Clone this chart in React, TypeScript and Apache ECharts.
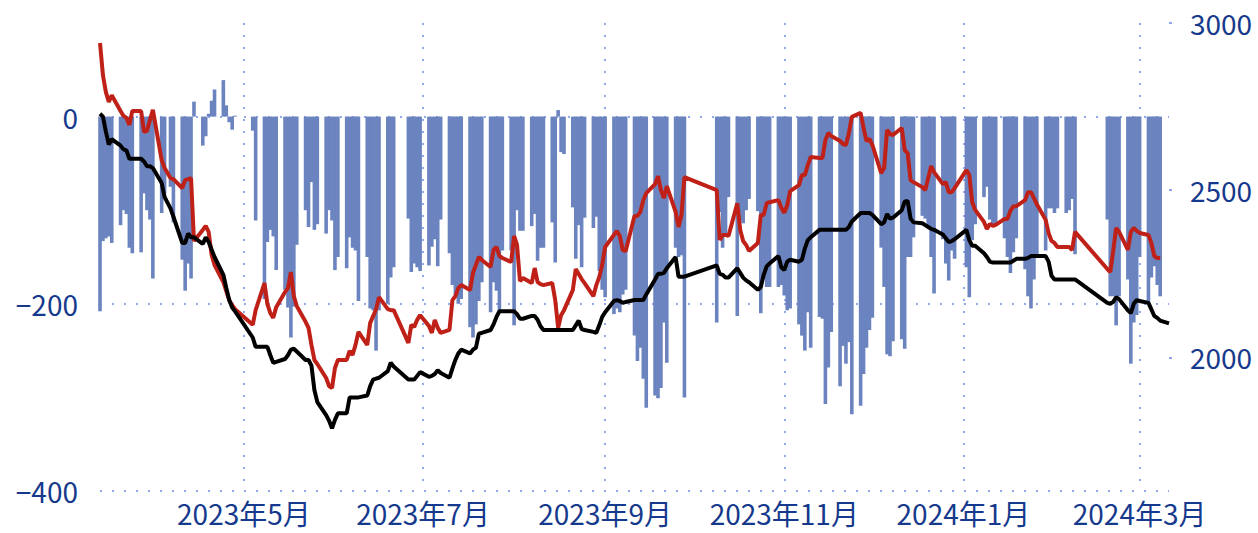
import React, { useEffect, useRef } from 'react';
import * as echarts from 'echarts';

// ---- calendar (trading days) ----
const START = '2023-03-13';
const END = '2024-03-11';
const HOLIDAYS = [
  '2023-04-05', '2023-05-01', '2023-05-02', '2023-05-03', '2023-06-22', '2023-06-23',
  '2023-09-29', '2023-10-02', '2023-10-03', '2023-10-04', '2023-10-05', '2023-10-06',
  '2024-01-01', '2024-02-09', '2024-02-12', '2024-02-13', '2024-02-14', '2024-02-15', '2024-02-16',
];

// ---- tick labels ----
const monthTicks = ['2023-05-01', '2023-07-01', '2023-09-01', '2023-11-01', '2024-01-01', '2024-03-01'];
const leftTicks = [-400, -200, 0];
const rightTicks = [2000, 2500, 3000];

// ---- series values (one per trading day) ----
const barValues = [
  -208, -133, -130, -128, -135,
  -116, -100, -104, -140, -146,
  -145, -82, -100, -110, -173,
  -103, -82, -75, -113,
  -153, -186, -157, -173, 16,
  -31, -21, 3, 17, 29,
  39, 12, -6, -14, 1,
  -15, -111,
  -195, -134, -121, -128, -164,
  -185, -204, -236, -203, -137,
  -100, -118, -70, -121, -115,
  -125, -100, -111, -164, -150,
  -162, -129, -140, -143, -197,
  -150, -205, -207, -250, -207,
  -200, -172, -161,
  -109, -166, -157, -161, -165,
  -159, -139, -131, -160, -110,
  -146, -180, -190, -200, -195,
  -225, -236, -222, -197, -177,
  -209, -177, -186, -207, -143,
  -143, -223, -100, -122, -122,
  -117, -104, -154, -140, -140,
  -113, -156, 7, -38, -40,
  -97, -152, -116, -161, -108,
  -119, -107, -165, -185, -193,
  -211, -205, -209, -190, -185,
  -234, -261, -247, -280, -311,
  -298, -301, -290, -220, -263,
  -140, -150, -148, -300,
  -220, -102, -140, -125, -86,
  -213, -111, -114, -100, -88,
  -101, -210, -173, -182, -182,
  -182, -180, -191, -207, -205,
  -222, -234, -250, -209, -247,
  -214, -216, -307, -268, -230,
  -288, -245, -264, -241, -318,
  -309, -275, -247, -228, -215,
  -140, -182, -254, -256, -240,
  -238, -248, -150, -150, -129,
  -106, -109, -118, -150, -189,
  -131, -157, -175, -143, -152,
  -161, -193, -132, -115,
  -86, -75, -110, -118, -115,
  -130, -150, -167, -145, -130,
  -163, -192, -205, -174, -150,
  -143, -98, -98, -103, -98,
  -103, -100, -88, -147,
  -110, -192, -192, -223, -192,
  -174, -264, -220, -212, -150,
  -198, -172, -160, -180, -192,
];

const redValues = [
  2940, 2844, 2793, 2764, 2784,
  2737, 2722, 2716, 2695, 2737,
  2737, 2674, 2677, 2710, 2740,
  2590, 2566, 2536, 2533,
  2506, 2530, 2533, 2536, 2348,
  2381, 2393, 2375, 2306, 2276,
  2225, 2198, 2171, 2156, 2144,
  2097, 2141,
  2222, 2159, 2132, 2118, 2150,
  2195, 2207, 2255, 2183, 2153,
  2106, 2088, 2037, 1992, 1980,
  1938, 1914, 1908, 1968, 1992,
  1992, 2019, 2007, 2037, 2076,
  2037, 2103, 2123, 2144, 2180,
  2144, 2141, 2141,
  2043, 2097, 2091, 2112, 2126,
  2094, 2073, 2112, 2088, 2073,
  2082, 2171, 2183, 2207, 2216,
  2201, 2252, 2276, 2300, 2291,
  2270, 2321, 2330, 2303, 2297,
  2285, 2363, 2336, 2228, 2237,
  2222, 2267, 2225, 2219, 2216,
  2222, 2171, 2088, 2126, 2141,
  2201, 2264, 2249, 2234, 2222,
  2183, 2216, 2240, 2276, 2330,
  2366, 2378, 2363, 2321, 2318,
  2423, 2423, 2435, 2470, 2491,
  2518, 2542, 2500, 2476, 2512,
  2435, 2390, 2426, 2539,
  2500, 2351, 2366, 2366, 2363,
  2461, 2381, 2348, 2336, 2318,
  2342, 2426, 2426, 2461, 2464,
  2470, 2447, 2432, 2455, 2497,
  2515, 2545, 2545, 2575, 2599,
  2596, 2596, 2650, 2671, 2662,
  2647, 2638, 2635, 2671, 2719,
  2731, 2686, 2647, 2653, 2635,
  2551, 2566, 2680, 2668, 2665,
  2686, 2620, 2611, 2530, 2524,
  2509, 2500, 2536, 2572, 2554,
  2518, 2524, 2494, 2494, 2506,
  2560, 2545, 2464, 2441,
  2405, 2384, 2399, 2393, 2396,
  2414, 2414, 2438, 2452, 2452,
  2470, 2494, 2494, 2476, 2458,
  2411, 2372, 2348, 2342, 2330,
  2330, 2330, 2321, 2375,
  2264, 2255, 2318, 2387, 2375,
  2321, 2375, 2387, 2378, 2372,
  2366, 2342, 2303, 2297, 2297,
];

const blackValues = [
  3, 0, -16, -30, -24,
  -31, -35, -36, -45, -45,
  -45, -48, -53, -53, -55,
  -71, -86, -98, -107,
  -135, -135, -125, -129, -129,
  -136, -129, -134, -142, -150,
  -169, -183, -196, -204, -208,
  -236, -246,
  -246, -246, -255, -263, -262,
  -259, -255, -249, -248, -251,
  -260, -260, -266, -292, -305,
  -319, -325, -333, -324, -317,
  -317, -300, -300, -300, -300,
  -298, -288, -281, -280, -279,
  -272, -263, -267,
  -281, -281, -281, -277, -273,
  -278, -277, -275, -271, -274,
  -279, -269, -260, -253, -249,
  -253, -249, -247, -232, -231,
  -228, -222, -214, -208, -208,
  -208, -208, -211, -216, -216,
  -213, -213, -217, -224, -228,
  -228, -228, -228, -228, -228,
  -228, -223, -218, -227, -228,
  -230, -231, -223, -214, -209,
  -197, -196, -197, -199, -198,
  -196, -196, -196, -196, -190,
  -174, -168, -168, -167, -162,
  -150, -171, -171, -171,
  -159, -168, -169, -172, -172,
  -162, -167, -172, -175, -177,
  -185, -182, -169, -160, -157,
  -149, -161, -164, -155, -153,
  -155, -153, -141, -132, -129,
  -121, -121, -121, -121, -121,
  -121, -121, -121, -118, -112,
  -103, -103, -103, -103, -105,
  -115, -113, -104, -109, -108,
  -100, -91, -90, -109, -113,
  -114, -116, -118, -120, -121,
  -126, -130, -134, -133, -131,
  -121, -132, -138, -138,
  -146, -150, -155, -156, -156,
  -156, -156, -156, -154, -152,
  -152, -151, -149, -149, -149,
  -149, -155, -170, -174, -174,
  -174, -174, -174, -174,
  -199, -200, -198, -193, -195,
  -207, -210, -200, -196, -197,
  -199, -206, -213, -215, -218,
  -221,
];

// ---- styles ----
const BAR_COLOR = '#6b84bf';
const RED = '#bf2118';
const BLACK = '#000000';
const GRID_COLOR = '#8fa8f0';
const LABEL_COLOR = '#15398c';
const FONT = '"Noto Sans CJK SC", "Noto Sans", sans-serif';
const FONT_SIZE = 28;

function parseDay(s: string): number {
  const [y, m, d] = s.split('-').map(Number);
  return new Date(y, m - 1, d).getTime();
}

function dayKey(d: Date): string {
  const mm = String(d.getMonth() + 1).padStart(2, '0');
  const dd = String(d.getDate()).padStart(2, '0');
  return `${d.getFullYear()}-${mm}-${dd}`;
}

function tradingDays(): number[] {
  const out: number[] = [];
  const hol = new Set(HOLIDAYS);
  const end = parseDay(END);
  const [sy, sm, sd] = START.split('-').map(Number);
  const d = new Date(sy, sm - 1, sd);
  while (d.getTime() <= end) {
    const wd = d.getDay();
    if (wd !== 0 && wd !== 6 && !hol.has(dayKey(d))) out.push(d.getTime());
    d.setDate(d.getDate() + 1);
  }
  return out;
}

export default function App() {
  const ref = useRef<HTMLDivElement>(null);

  useEffect(() => {
    if (!ref.current) return;
    const chart = echarts.init(ref.current, undefined, { renderer: 'svg' });
    const days = tradingDays();
    const bars = barValues.map((v, i) => [days[i], v]);
    const red = redValues.map((v, i) => [days[i], v]);
    const black = blackValues.map((v, i) => [days[i], v]);
    const monthTs = monthTicks.map(parseDay);
    const dotted = { type: [2, 10] as number[], width: 2, color: GRID_COLOR };
    const labelBase = { color: LABEL_COLOR, fontSize: FONT_SIZE, lineHeight: FONT_SIZE, fontFamily: FONT };

    chart.setOption({
      animation: false,
      backgroundColor: '#ffffff',
      grid: { left: 100, right: 89, top: 23, bottom: 42, outerBoundsMode: 'none', containLabel: false },
      xAxis: {
        type: 'value',
        min: parseDay(START),
        max: parseDay(END),
        axisLine: { show: false },
        axisTick: { show: false, customValues: monthTs },
        axisLabel: {
          ...labelBase,
          customValues: monthTs,
          margin: 8,
          hideOverlap: false,
          formatter: (val: number) => {
            const d = new Date(val);
            return `${d.getFullYear()}年${d.getMonth() + 1}月`;
          },
        },
        splitLine: { show: true, lineStyle: dotted },
      },
      yAxis: [
        {
          type: 'value',
          position: 'left',
          min: -400,
          max: 100,
          axisLine: { show: false },
          axisTick: { show: false, customValues: leftTicks },
          axisLabel: {
            ...labelBase,
            customValues: leftTicks,
            margin: 22,
            formatter: (v: number) => String(v).replace('-', '\u2212'),
          },
          splitLine: { show: true, lineStyle: dotted },
        },
        {
          type: 'value',
          position: 'right',
          min: 1600,
          max: 3000,
          axisLine: { show: false },
          axisTick: { show: true, customValues: rightTicks, length: 3, lineStyle: { color: GRID_COLOR, width: 2 } },
          axisLabel: {
            ...labelBase,
            customValues: rightTicks,
            margin: 21,
            formatter: (v: number) => String(v),
          },
          splitLine: { show: false },
        },
      ],
      series: [
        {
          type: 'bar',
          yAxisIndex: 0,
          data: bars,
          barWidth: 3.6,
          itemStyle: { color: BAR_COLOR },
        },
        {
          type: 'line',
          yAxisIndex: 1,
          data: red,
          symbol: 'none',
          lineStyle: { color: RED, width: 4 },
        },
        {
          type: 'line',
          yAxisIndex: 0,
          data: black,
          symbol: 'none',
          lineStyle: { color: BLACK, width: 4 },
        },
      ],
    });
    return () => chart.dispose();
  }, []);

  return (
    <div
      ref={ref}
      style={{ position: 'fixed', left: 0, top: 0, width: 1258, height: 533, background: '#fff' }}
    />
  );
}
